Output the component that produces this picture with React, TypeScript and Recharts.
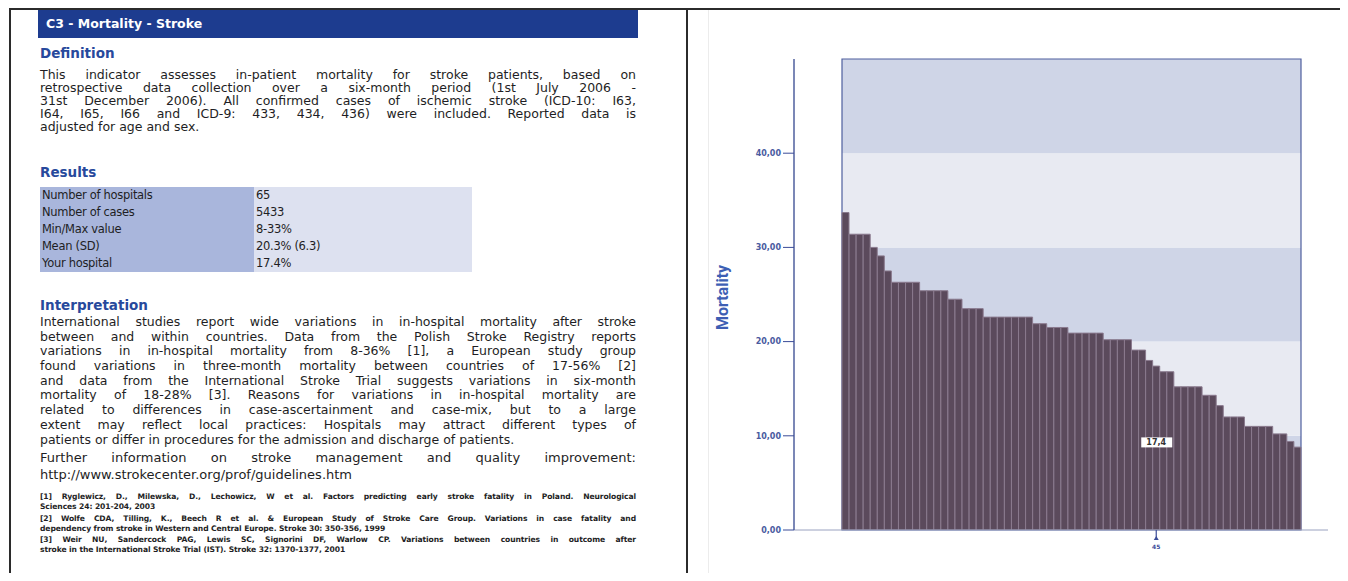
import React from "react";
import {
  BarChart,
  Bar,
  XAxis,
  YAxis,
  ReferenceArea,
  ReferenceDot,
  Label,
} from "recharts";

// adjusted in-hospital stroke mortality (%) per hospital, sorted high to low
const MORTALITY = [
  33.7, 31.4, 31.4, 31.4, 30.0, 29.1, 27.5, 26.3, 26.3, 26.3, 26.3, 25.4, 25.4,
  25.4, 25.4, 24.5, 24.5, 23.5, 23.5, 23.5, 22.6, 22.6, 22.6, 22.6, 22.6, 22.6,
  22.6, 21.9, 21.9, 21.5, 21.5, 21.5, 20.9, 20.9, 20.9, 20.9, 20.9, 20.2, 20.2,
  20.2, 20.2, 19.1, 19.1, 18.0, 17.4, 16.8, 16.8, 15.2, 15.2, 15.2, 15.2, 14.3,
  14.3, 13.2, 12.0, 12.0, 12.0, 11.0, 11.0, 11.0, 11.0, 10.2, 10.2, 9.4, 8.8,
];
const HOSPITAL_IDS = MORTALITY.map((_, i) => i + 1);
const OWN_HOSPITAL = 45;
const Y_TICKS = [0, 10, 20, 30, 40];
const BANDS = [
  [0, 10],
  [10, 20],
  [20, 30],
  [30, 40],
  [40, 50],
];

const RESULT_LABELS = [
  "Number of hospitals",
  "Number of cases",
  "Min/Max value",
  "Mean (SD)",
  "Your hospital",
];
const RESULT_VALUES = ["65", "5433", "8-33%", "20.3% (6.3)", "17.4%"];

const DEFINITION = [
  "This indicator assesses in-patient mortality for stroke patients, based on",
  "retrospective data collection over a six-month period (1st July 2006 -",
  "31st December 2006). All confirmed cases of ischemic stroke (ICD-10: I63,",
  "I64, I65, I66 and ICD-9: 433, 434, 436) were included. Reported data is",
  "adjusted for age and sex.",
];

const INTERPRETATION = [
  "International studies report wide variations in in-hospital mortality after stroke",
  "between and within countries. Data from the Polish Stroke Registry reports",
  "variations in in-hospital mortality from 8-36% [1], a European study group",
  "found variations in three-month mortality between countries of 17-56% [2]",
  "and data from the International Stroke Trial suggests variations in six-month",
  "mortality of 18-28% [3]. Reasons for variations in in-hospital mortality are",
  "related to differences in case-ascertainment and case-mix, but to a large",
  "extent may reflect local practices: Hospitals may attract different types of",
  "patients or differ in procedures for the admission and discharge of patients.",
];

const FURTHER = [
  "Further information on stroke management and quality improvement:",
  "http://www.strokecenter.org/prof/guidelines.htm",
];

const REFERENCES = [
  [
    "[1] Ryglewicz, D., Milewska, D., Lechowicz, W et al. Factors predicting early stroke fatality in Poland. Neurological",
    "Sciences 24: 201-204, 2003",
  ],
  [
    "[2] Wolfe CDA, Tilling, K., Beech R et al. & European Study of Stroke Care Group. Variations in case fatality and",
    "dependency from stroke in Western and Central Europe. Stroke 30: 350-356, 1999",
  ],
  [
    "[3] Weir NU, Sandercock PAG, Lewis SC, Signorini DF, Warlow CP. Variations between countries in outcome after",
    "stroke in the International Stroke Trial (IST). Stroke 32: 1370-1377, 2001",
  ],
];
const REFERENCE_TOPS = [492, 514, 535];

const DATA = HOSPITAL_IDS.map((id, i) => ({ id, value: MORTALITY[i] }));

const BLUE = "#1d3c8f";
const HEAD = "#27499c";
const TEXT = "#1e1e24";
const BAND_DARK = "#cfd5e7";
const BAND_LIGHT = "#e8eaf2";
const BODY_FONT = "'DejaVu Sans', sans-serif";

const fmt = (v: number, d: number) => v.toFixed(d).replace(".", ",");

function Lines({
  lines,
  top,
  left,
  width,
  lineHeight,
  fontSize,
  weight = 400,
  spacing = 0,
}: any) {
  return (
    <div style={{ position: "absolute", top, left, width }}>
      {lines.map((l: string, i: number) => (
        <div
          key={i}
          style={{
            height: lineHeight,
            lineHeight: `${lineHeight}px`,
            fontSize,
            fontWeight: weight,
            letterSpacing: spacing,
            color: TEXT,
            whiteSpace: "nowrap",
            textAlign: "justify",
            textAlignLast: i < lines.length - 1 ? "justify" : "left",
          }}
        >
          {l}
        </div>
      ))}
    </div>
  );
}

function Heading({ text, top }: { text: string; top: number }) {
  return (
    <div
      style={{
        position: "absolute",
        top,
        left: 40,
        fontSize: 13.5,
        fontWeight: 700,
        color: HEAD,
        lineHeight: "18px",
      }}
    >
      {text}
    </div>
  );
}

const HospitalTick = (props: any) => {
  const { x, y, payload } = props;
  if (payload.value !== OWN_HOSPITAL) return <g />;
  return (
    <g>
      <line x1={x} x2={x} y1={y - 8} y2={y + 1} stroke="#3b4c98" strokeWidth={1.2} />
      <path d={`M${x - 2.5},${y + 2} L${x + 2.5},${y + 2} L${x},${y - 2} Z`} fill="#3b4c98" />
      <text x={x} y={y + 11} textAnchor="middle" fontSize={6} fontWeight={700} fill="#3b4c98">
        {payload.value}
      </text>
    </g>
  );
};

const OwnValueBox = (props: any) => {
  const { cx, cy } = props;
  const v = MORTALITY[OWN_HOSPITAL - 1];
  return (
    <g>
      <rect x={cx - 15} y={cy - 5} width={31} height={10} fill="#ffffff" />
      <text x={cx} y={cy + 3} textAnchor="middle" fontSize={8} fontWeight={700} fill="#333">
        {fmt(v, 1)}
      </text>
    </g>
  );
};

const MortalityLabel = (props: any) => {
  const { viewBox } = props;
  const cx = viewBox.x + 32;
  const cy = viewBox.y + viewBox.height / 2 + 3;
  return (
    <text
      x={cx}
      y={cy}
      transform={`rotate(-90 ${cx} ${cy})`}
      textAnchor="middle"
      dominantBaseline="central"
      fontSize={16}
      fontWeight={700}
      fill="#3d5fb4"
      fontFamily="Roboto, sans-serif"
    >
      Mortality
    </text>
  );
};

export default function App() {
  return (
    <div
      style={{
        position: "relative",
        width: 1348,
        height: 581,
        margin: -8,
        overflow: "hidden",
        background: "#fff",
        fontFamily: BODY_FONT,
      }}
    >
      {/* page frame */}
      <div style={{ position: "absolute", left: 9, top: 8, width: 1337, height: 2, background: "#2b2b2b" }} />
      <div style={{ position: "absolute", left: 9, top: 8, width: 2, height: 573, background: "#2b2b2b" }} />
      <div style={{ position: "absolute", left: 686, top: 8, width: 2, height: 573, background: "#2b2b2b" }} />
      <div style={{ position: "absolute", left: 1344, top: 8, width: 2, height: 573, background: "#2b2b2b" }} />
      <div style={{ position: "absolute", left: 708, top: 10, width: 1, height: 571, background: "#ececec" }} />

      {/* left column: indicator description */}
      <div
        style={{
          position: "absolute",
          left: 38,
          top: 10,
          width: 600,
          height: 28,
          background: BLUE,
          color: "#fff",
          fontSize: 12.5,
          fontWeight: 700,
          lineHeight: "28px",
          paddingLeft: 8,
          boxSizing: "border-box",
        }}
      >
        C3 - Mortality - Stroke
      </div>

      <Heading text="Definition" top={44} />
      <Lines lines={DEFINITION} top={68} left={40} width={596} lineHeight={13} fontSize={12.5} />

      <Heading text="Results" top={163} />
      <div style={{ position: "absolute", left: 40, top: 187, width: 432 }}>
        {RESULT_LABELS.map((lab, i) => (
          <div
            key={lab}
            style={{
              display: "flex",
              height: 17,
              lineHeight: "17px",
              fontSize: 11.5,
              letterSpacing: -0.3,
              color: TEXT,
            }}
          >
            <div style={{ width: 214, background: "#a9b6dc", paddingLeft: 2 }}>{lab}</div>
            <div style={{ width: 218, background: "#dde1f0", paddingLeft: 2 }}>{RESULT_VALUES[i]}</div>
          </div>
        ))}
      </div>

      <Heading text="Interpretation" top={296} />
      <Lines lines={INTERPRETATION} top={315} left={40} width={596} lineHeight={14.7} fontSize={12.5} />
      <Lines lines={FURTHER} top={449} left={40} width={596} lineHeight={17} fontSize={13} />

      {REFERENCES.map((r, i) => (
        <Lines
          key={i}
          lines={r}
          top={REFERENCE_TOPS[i]}
          left={40}
          width={596}
          lineHeight={9.5}
          fontSize={7.6}
          weight={700}
          spacing={-0.1}
        />
      ))}

      {/* right column: chart */}
      <div style={{ position: "absolute", left: 690, top: 0 }}>
        <BarChart
          width={658}
          height={581}
          data={DATA}
          margin={{ top: 59, right: 20, bottom: 0, left: 0 }}
          barCategoryGap={0}
        >
          {BANDS.map(([y1, y2], i) => (
            <ReferenceArea
              key={i}
              y1={y1}
              y2={y2}
              fill={i % 2 === 0 ? BAND_DARK : BAND_LIGHT}
              fillOpacity={1}
              stroke="none"
            />
          ))}
          <XAxis
            dataKey="id"
            height={51}
            interval={0}
            tickLine={false}
            tick={<HospitalTick />}
            padding={{ left: 48, right: 27 }}
            axisLine={{ stroke: "#9aa2c0" }}
          />
          <YAxis
            width={104}
            domain={[0, 50]}
            ticks={Y_TICKS}
            tickFormatter={(v: number) => fmt(v, 2)}
            tick={{ fontSize: 8, fill: "#4a5ba0", fontWeight: 700 }}
            tickSize={11}
            tickMargin={2}
            tickLine={{ stroke: "#3b4c98" }}
            axisLine={{ stroke: "#4f5f9e", strokeWidth: 1.5 }}
            allowDataOverflow
          >
            <Label content={<MortalityLabel />} />
          </YAxis>
          <Bar
            dataKey="value"
            fill="#5b4a5c"
            stroke="#8a7a8e"
            strokeWidth={1}
            isAnimationActive={false}
          />
          <ReferenceArea y1={0} y2={50} fill="none" stroke="#4f5f9e" strokeWidth={1.2} />
          <ReferenceDot x={OWN_HOSPITAL} y={9.3} r={0} shape={<OwnValueBox />} />
        </BarChart>
      </div>
    </div>
  );
}
